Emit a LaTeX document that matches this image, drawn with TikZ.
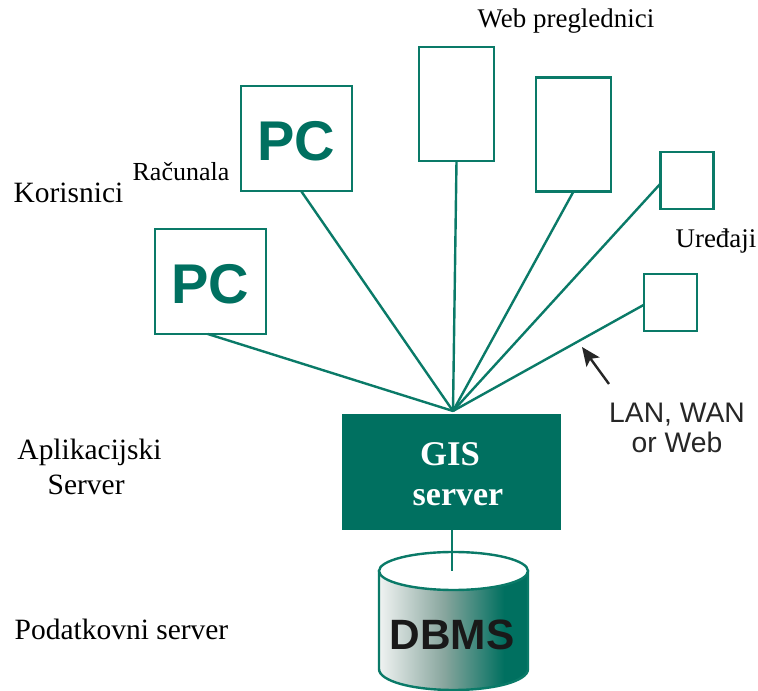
\documentclass[tikz,border=0pt]{standalone}
\usepackage{fontspec}
\usetikzlibrary{arrows.meta}
\setmainfont{Liberation Serif}
\newfontfamily\arialfont{Liberation Sans}
\definecolor{gisgreen}{RGB}{0,112,96}
\definecolor{boxgreen}{RGB}{10,122,104}
\definecolor{dbleft}{RGB}{240,243,242}
\definecolor{dbmiddle}{RGB}{135,165,157}
\pgfdeclarehorizontalshading{dbshade}{100bp}{color(0bp)=(dbleft); color(25bp)=(dbleft); color(47bp)=(dbmiddle); color(67bp)=(gisgreen); color(100bp)=(gisgreen)}
\tikzset{
	every picture/.style={line width=0.75pt},
	box/.style={draw=boxgreen, line width=1.8pt, fill=white, inner sep=0pt, outer sep=0pt},
	pcbox/.style={box, minimum width=83.25pt, minimum height=78.75pt, text=gisgreen, text height=33pt, text depth=0pt, font=\arialfont\bfseries\fontsize{42}{42}\selectfont},
	webbox/.style={box, minimum width=56.25pt, minimum height=85.5pt},
	devbox/.style={box, minimum width=40pt, minimum height=42.75pt},
	link/.style={draw=boxgreen, line width=1.8pt},
	label/.style={font=\fontsize{22.1}{26}\selectfont, align=center},
	smalllabel/.style={font=\fontsize{20.2}{24}\selectfont, align=center}}

\begin{document}
\begin{tikzpicture}[x=0.75pt,y=0.75pt,yscale=-1,xscale=1]
	\useasboundingbox (0,0) rectangle (758,691);

	%Shape: Rectangle
	\node [pcbox] (pcone) at (296.5,138.5) {PC};
	\node [pcbox] (pctwo) at (210.5,281.5) {PC};
	\node [webbox] (webone) at (456.5,104) {};
	\node [webbox] (webtwo) at (573.5,134.5) {};
	\node [devbox] (devone) at (687,180.5) {};
	\node [devbox] (devtwo) at (670.5,302.5) {};
	\node [fill=gisgreen, inner sep=0pt, minimum width=164.6pt, minimum height=87pt] (gis) at (451.75,472) {};
	\coordinate (hub) at (453,411);
	\coordinate (dbtop) at (451.75,571);
	\coordinate (lanstart) at (609,384);
	\coordinate (lanend) at (582,347);

	%Shape: Can
	\draw [boxgreen, line width=1.8pt, shading=dbshade] (379,571) -- (379,669) .. controls (379,681) and (412,690) .. (453.5,690) .. controls (495,690) and (528,681) .. (528,669) -- (528,571) -- cycle ;
	%Shape: Ellipse
	\draw [boxgreen, line width=1.8pt, fill=white] (453.5,571) ellipse (74.5 and 19) ;

	%Lines
	\draw [link] (pcone.-85) -- (hub);
	\draw [link] (pctwo.-93) -- (hub);
	\draw [link] (webone.south) -- (hub);
	\draw [link] (webtwo.south) -- (hub);
	\draw [link] (devone.187) -- (hub);
	\draw [link] (devtwo.185) -- (hub);
	\draw [link] (gis.south) -- (dbtop);
	\draw [-{Stealth[length=14pt,width=12pt,inset=3pt]}, line width=1.8pt, black!85] (lanstart) -- (lanend);

	% Text Node
	\node [label] (users) at (68.5,193) {Korisnici};
	% Text Node
	\node [font=\fontsize{19.5}{23}\selectfont] (pclabel) at (181,172) {Računala};
	% Text Node
	\node [smalllabel] (weblabel) at (566,21) {Web preglednici};
	% Text Node
	\node [smalllabel] (devlabel) at (716,241) {Uređaji};
	% Text Node
	\node [label] (applabel) at (89.5,467) {Aplikacijski\\\mbox{Server\hspace{5pt}}};
	% Text Node
	\node [label] (datalabel) at (121.5,629) {Podatkovni server};
	% Text Node
	\node [font=\arialfont\fontsize{21.2}{23}\selectfont, align=center, text=black!85] (lanlabel) at (677,428) {LAN, WAN\\or Web};
	% Text Node
	\node [font=\bfseries\fontsize{26}{26}\selectfont, text=white] (gisa) at (450,454) {GIS};
	% Text Node
	\node [font=\bfseries\fontsize{25.5}{26}\selectfont, text=white] (gisb) at (458,498) {server};
	% Text Node
	\node [font=\arialfont\bfseries\fontsize{31.8}{32}\selectfont, text=black!90] (dbms) at (452,635) {DBMS};

\end{tikzpicture}
\end{document}
